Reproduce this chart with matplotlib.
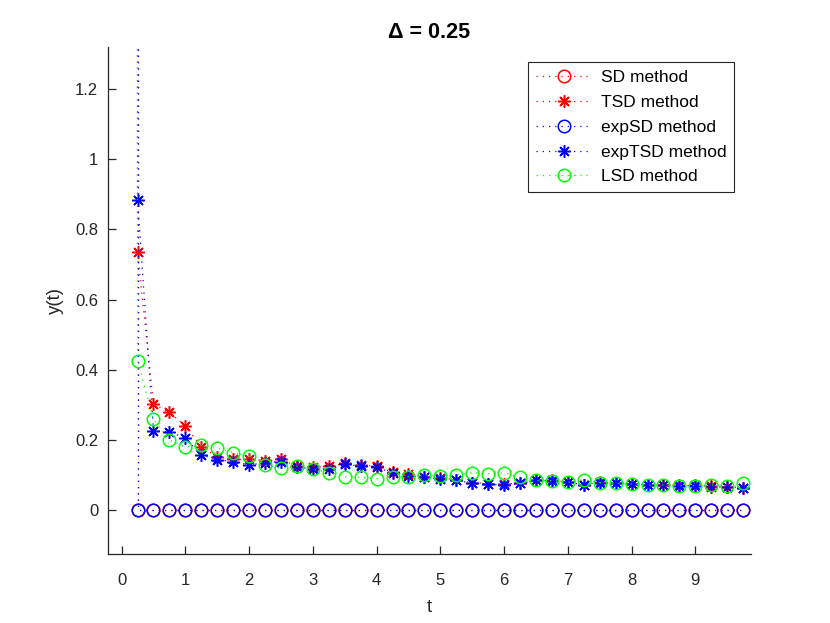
import numpy as np
import matplotlib
matplotlib.use("Agg")
import matplotlib.pyplot as plt

plt.rcParams['font.family'] = ['Liberation Sans', 'DejaVu Sans']

# time grid, first point repeated: the curves start far above the axes at t = 0.25
t = [0.25] + [0.25 * k for k in range(1, 40)]
top = 5.0

sd = [top] + [0.0] * 39
exp_sd = [top] + [0.0] * 39

tsd = [top,
       0.735, 0.302, 0.278, 0.239, 0.180, 0.152, 0.144, 0.145, 0.140, 0.144,
       0.125, 0.122, 0.124, 0.133, 0.128, 0.125, 0.107, 0.102, 0.095, 0.092,
       0.086, 0.078, 0.075, 0.073, 0.077, 0.085, 0.084, 0.080, 0.072, 0.079,
       0.077, 0.075, 0.072, 0.072, 0.070, 0.070, 0.067, 0.066, 0.063]

exp_tsd = [top,
           0.885, 0.226, 0.223, 0.204, 0.157, 0.143, 0.138, 0.128, 0.135, 0.138,
           0.122, 0.117, 0.116, 0.130, 0.125, 0.122, 0.105, 0.097, 0.093, 0.089,
           0.084, 0.076, 0.073, 0.071, 0.076, 0.084, 0.083, 0.079, 0.071, 0.078,
           0.076, 0.074, 0.071, 0.071, 0.069, 0.069, 0.066, 0.065, 0.062]

lsd = [top,
       0.425, 0.258, 0.200, 0.179, 0.184, 0.178, 0.163, 0.154, 0.128, 0.119,
       0.125, 0.116, 0.106, 0.095, 0.093, 0.089, 0.095, 0.095, 0.100, 0.097,
       0.100, 0.106, 0.103, 0.106, 0.093, 0.084, 0.083, 0.079, 0.086, 0.078,
       0.076, 0.074, 0.071, 0.071, 0.069, 0.069, 0.071, 0.069, 0.076]

labels = ['SD method', 'TSD method', 'expSD method', 'expTSD method', 'LSD method']

star = (8, 2, 0)
green = (0, 1, 0)

fig = plt.figure(figsize=(8.3, 6.23), dpi=100)
ax = fig.add_axes([0.13, 0.11, 0.775, 0.815])

kw = dict(linestyle=(0, (1, 4)), linewidth=0.9, markersize=9, markeredgewidth=1.1)
ax.plot(t, sd, color='r', marker='o', markerfacecolor='none', label=labels[0], **kw)
ax.plot(t, tsd, color='r', marker=star, label=labels[1], **kw)
ax.plot(t, exp_sd, color='b', marker='o', markerfacecolor='none', label=labels[2], **kw)
ax.plot(t, exp_tsd, color='b', marker=star, label=labels[3], **kw)
ax.plot(t, lsd, color=green, marker='o', markerfacecolor='none', label=labels[4], **kw)

ax.set_xlim(-0.215, 9.875)
ax.set_ylim(-0.127, 1.321)
ax.set_xticks(range(10))
ax.set_yticks([0, 0.2, 0.4, 0.6, 0.8, 1.0, 1.2])
ax.set_yticklabels(['0', '0.2', '0.4', '0.6', '0.8', '1', '1.2'])

axis_col = (0.15, 0.15, 0.15)
for s in ['top', 'right']:
    ax.spines[s].set_visible(False)
for s in ['left', 'bottom']:
    ax.spines[s].set_color(axis_col)
    ax.spines[s].set_linewidth(0.9)
ax.tick_params(direction='in', length=6, width=0.9, colors=axis_col, labelsize=12)
ax.tick_params(axis='x', pad=13)
ax.tick_params(axis='y', pad=7)

ax.set_xlabel('t', fontsize=13.5, color=axis_col, labelpad=8)
ax.set_ylabel('y(t)', fontsize=13.5, color=axis_col, labelpad=8)
ax.set_title('Δ = 0.25', fontsize=15.5, fontweight='bold', pad=6)

leg = ax.legend(loc='upper right', bbox_to_anchor=(0.8843, 0.9005), bbox_transform=fig.transFigure,
                borderaxespad=0, fontsize=12.5, numpoints=1, handlelength=3.2, fancybox=False,
                framealpha=1, borderpad=0.45, labelspacing=0.56, handletextpad=0.5)
leg.get_frame().set_edgecolor(axis_col)
leg.get_frame().set_linewidth(0.8)

fig.savefig('out.png', dpi=100)
